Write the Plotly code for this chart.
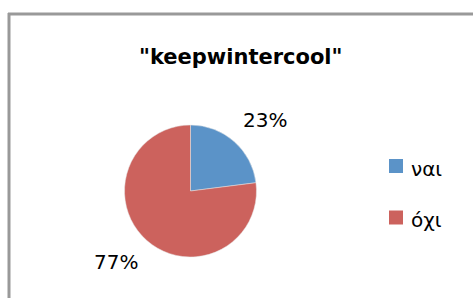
import math
import plotly.graph_objects as go

title = '"keepwintercool"'
categories = ["ναι", "όχι"]
values = [23, 77]
colors = ["#5B93C8", "#CC625D"]

W, H = 473, 298
cx, cy, r = 190.5, 191.0, 66.0
FONT = "DejaVu Sans, Open Sans, sans-serif"

fig = go.Figure()
fig.add_trace(go.Pie(
    labels=categories,
    values=values,
    marker=dict(colors=colors, line=dict(color="#E6E6E6", width=0.5)),
    sort=False,
    direction="clockwise",
    rotation=0,
    textinfo="none",
    hoverinfo="label+percent",
    showlegend=False,
    domain=dict(x=[(cx - r) / W, (cx + r) / W], y=[1 - (cy + r) / H, 1 - (cy - r) / H]),
))

# data labels (percent) placed outside slice midpoints, anchored by corner
total = sum(values)
cum = 0
annotations = []
R = 1.16 * r
for v in values:
    mid = (cum + v / 2) / total * 2 * math.pi
    cum += v
    sx, sy = math.sin(mid), -math.cos(mid)
    lx = cx + R * sx
    ly = cy + R * sy
    annotations.append(dict(
        x=lx / W, y=1 - ly / H, xref="paper", yref="paper",
        text=f"{round(v / total * 100)}%", showarrow=False,
        font=dict(family=FONT, size=20, color="#000000"),
        xanchor="left" if sx >= 0 else "right",
        yanchor="bottom" if sy < 0 else "top",
    ))

# title
annotations.append(dict(
    x=241 / W, y=1 - 57 / H, xref="paper", yref="paper", text="<b>" + title + "</b>",
    showarrow=False, xanchor="center", yanchor="middle",
    font=dict(family=FONT, size=21, color="#000000"),
))

# legend (manual)
shapes = []
sq_y = [166, 217.5]
txt_y = [169, 220]
for cat, col, sy_, ty in zip(categories, colors, sq_y, txt_y):
    shapes.append(dict(type="rect", xref="paper", yref="paper",
                       x0=389 / W, x1=403 / W, y0=1 - (sy_ + 7) / H, y1=1 - (sy_ - 7) / H,
                       fillcolor=col, line=dict(width=0)))
    annotations.append(dict(
        x=409 / W, y=1 - ty / H, xref="paper", yref="paper", text=cat,
        showarrow=False, xanchor="left", yanchor="middle",
        font=dict(family=FONT, size=20, color="#000000"),
    ))

# chart border (top and left visible)
shapes.append(dict(type="line", xref="paper", yref="paper", x0=8 / W, x1=1, y0=1 - 14 / H, y1=1 - 14 / H,
                   line=dict(color="#999999", width=3)))
shapes.append(dict(type="line", xref="paper", yref="paper", x0=9 / W, x1=9 / W, y0=1 - 13 / H, y1=0,
                   line=dict(color="#999999", width=3)))

fig.update_layout(
    width=W, height=H,
    margin=dict(l=0, r=0, t=0, b=0),
    paper_bgcolor="#FFFFFF", plot_bgcolor="#FFFFFF",
    annotations=annotations, shapes=shapes,
)
fig.write_html("out.html", config={"displayModeBar": False},
               post_script="document.body.style.margin='0';document.body.style.overflow='hidden';")
